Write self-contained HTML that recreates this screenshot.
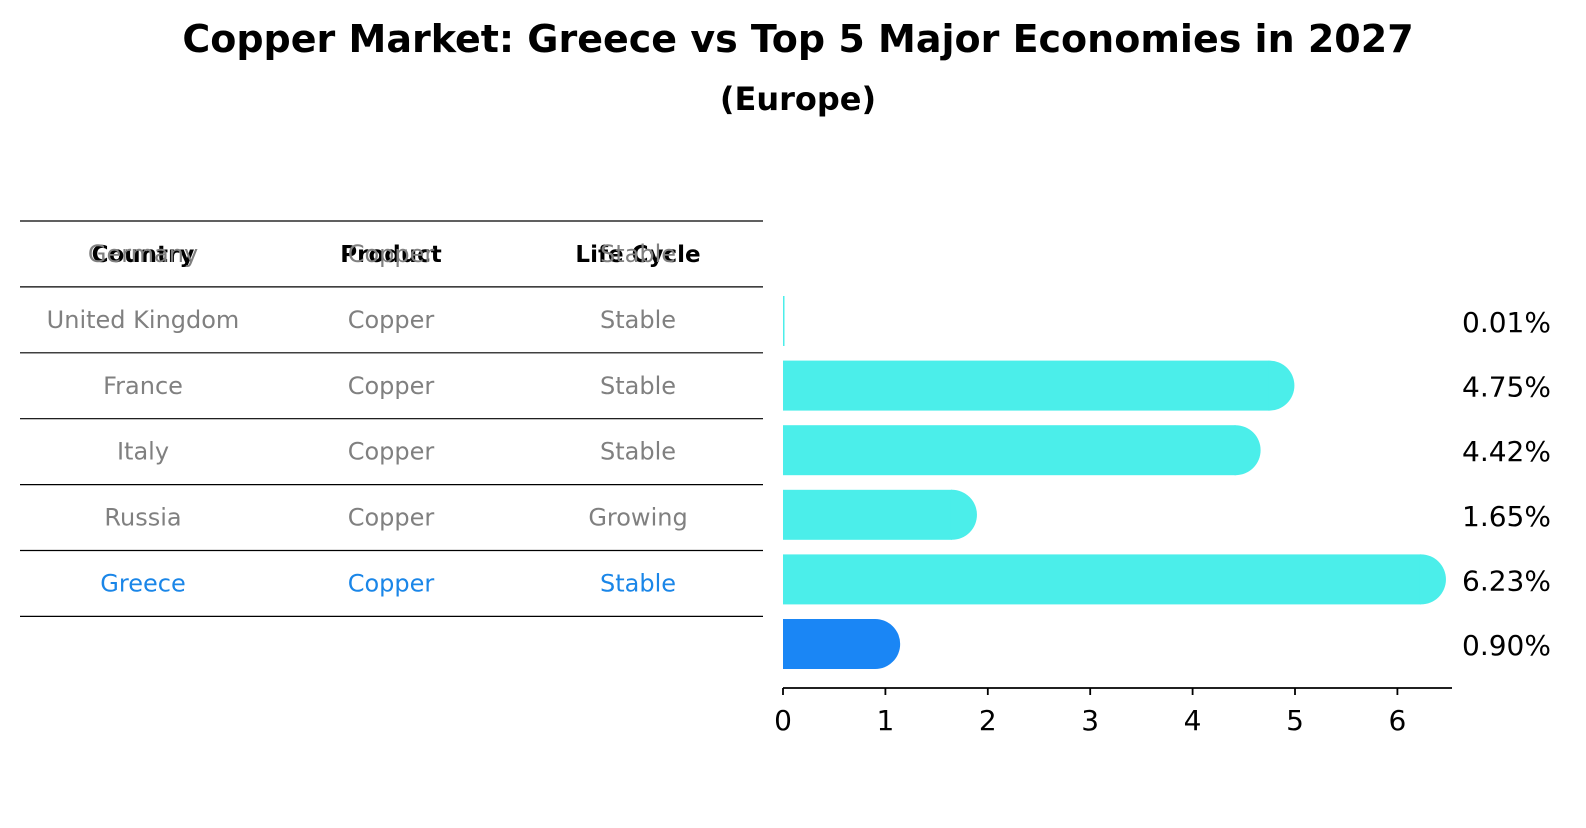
<!DOCTYPE html>
<html><head><meta charset="utf-8"><style>
body{margin:0;background:#fff;font-family:"Liberation Sans","DejaVu Sans",sans-serif;}
svg text{font-family:"DejaVu Sans","Liberation Sans",sans-serif;}
</style></head><body>
<svg width="1586" height="823" xmlns="http://www.w3.org/2000/svg">
<rect width="1586" height="823" fill="#fff"/>
<text x="798" y="52" text-anchor="middle" font-size="38" font-weight="bold">Copper Market: Greece vs Top 5 Major Economies in 2027</text>
<text x="798" y="110" text-anchor="middle" font-size="32" font-weight="bold">(Europe)</text>
<g id="table"></g>
<g id="bars"></g>
</svg>
<script>
const countries=["Germany","United Kingdom","France","Italy","Russia","Greece"];
const products=["Copper","Copper","Copper","Copper","Copper","Copper"];
const lifeCycles=["Stable","Stable","Stable","Stable","Growing","Stable"];
const values=[0.01,4.75,4.42,1.65,6.23,0.90];
const valueLabels=["0.01%","4.75%","4.42%","1.65%","6.23%","0.90%"];
const ticks=[0,1,2,3,4,5,6];
const NS="http://www.w3.org/2000/svg";
function mk(p,t,a){const e=document.createElementNS(NS,t);for(const k in a)e.setAttribute(k,a[k]);p.appendChild(e);return e;}
const tbl=document.getElementById('table'),bars=document.getElementById('bars');
const rowTop=221,rowH=65.9,colX=[143,391,638];
const hl=mk(tbl,'line',{x1:20,x2:763,y1:rowTop,y2:rowTop,stroke:'#000','stroke-width':1.2});


["Country","Product","Life Cycle"].forEach((h,i)=>{
 const t=mk(tbl,'text',{x:colX[i],y:rowTop+rowH/2+8,'text-anchor':'middle','font-size':23,'font-weight':'bold'});
 t.textContent=h;
 
 
});
const x=v=>783+v*102.4;
const yc=i=>321+i*64.6;
for(let i=0;i<countries.length;i++){
 const ly=rowTop+rowH*(i+1);
 const l=mk(tbl,'line',{x1:20,x2:763,y1:ly,y2:ly,stroke:'#000','stroke-width':1.2});
 
 
 const col=countries[i]==="Greece"?"#1a86e8":"#808080";
 [countries[i],products[i],lifeCycles[i]].forEach((s,j)=>{
  const t=mk(tbl,'text',{x:colX[j],y:ly-rowH/2+8,'text-anchor':'middle','font-size':24,fill:col});
  t.textContent=s;
  
  
 });
 const g=countries[i]==="Greece";
 const color=g?"#1a86f5":"#4beeea";
 const w=x(values[i])-x(0);
 const r=mk(bars,'rect',{x:x(0),y:yc(i)-25,width:Math.max(w,1.5),height:50,fill:color});
 
 
 if(values[i]>0.05){
  const c=mk(bars,'path',{d:`M${x(values[i])-1},${yc(i)-25} L${x(values[i])},${yc(i)-25} A25,25 0 0 1 ${x(values[i])},${yc(i)+25} L${x(values[i])-1},${yc(i)+25} Z`,fill:color});
  
  
 }
 const vt=mk(bars,'text',{x:1462,y:yc(i)+11,'font-size':28});
 vt.textContent=valueLabels[i];
 
 
}
const ax=mk(bars,'line',{x1:783,x2:1452,y1:688,y2:688,stroke:'#000','stroke-width':1.8});


ticks.forEach(t=>{
 const tk=mk(bars,'line',{x1:x(t),x2:x(t),y1:688,y2:695,stroke:'#000','stroke-width':1.8});
 
 
 const tl=mk(bars,'text',{x:x(t),y:730,'text-anchor':'middle','font-size':28});
 tl.textContent=t;
 
 
});
</script>
</body></html>
